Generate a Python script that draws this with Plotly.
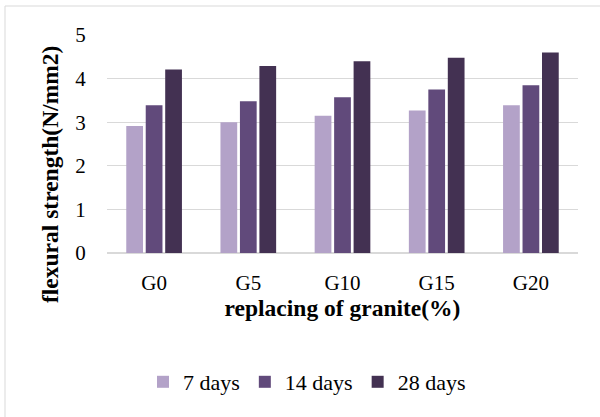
import plotly.graph_objects as go

categories = ["G0", "G5", "G10", "G15", "G20"]
days7 = [2.91, 3.00, 3.15, 3.27, 3.39]
days14 = [3.39, 3.48, 3.57, 3.75, 3.85]
days28 = [4.21, 4.29, 4.40, 4.48, 4.60]
series_names = ["7 days", "14 days", "28 days"]
colors = ["#b3a2c8", "#614a7b", "#433152"]

fig = go.Figure()
for name, vals, col in zip(series_names, [days7, days14, days28], colors):
    fig.add_trace(go.Bar(x=categories, y=vals, name=name, marker_color=col,
                         marker_line_width=0))

font_family = "Liberation Serif, Times New Roman, serif"
L, R, T, B = 107, 22, 35, 164
W, H = 600, 417
pw, ph = W - L - R, H - T - B

fig.update_layout(
    width=W, height=H,
    margin=dict(l=L, r=R, t=T, b=B, autoexpand=False),
    paper_bgcolor="white", plot_bgcolor="white",
    barmode="group", bargap=0.38, bargroupgap=0.14,
    font=dict(family=font_family, size=21, color="#000000"),
    xaxis=dict(
        automargin=False,
        title=dict(text="<b>replacing of granite(%)</b>", font=dict(size=23.5), standoff=4),
        showline=True, linecolor="#d9d9d9", linewidth=1,
        ticks="outside", ticklen=11, tickcolor="rgba(0,0,0,0)",
        tickfont=dict(size=21),
    ),
    yaxis=dict(
        automargin=False,
        range=[0, 5], dtick=1,
        showgrid=True, gridcolor="#d9d9d9", gridwidth=1,
        zeroline=True, zerolinecolor="#d9d9d9",
        ticks="outside", ticklen=16, tickcolor="rgba(0,0,0,0)",
        tickfont=dict(size=21),
    ),
    annotations=[dict(
        text="<b>flexural strength(N/mm2)</b>", textangle=-90,
        xref="paper", yref="paper",
        x=(50 - L) / pw, y=(T + ph - 175) / ph,
        xanchor="center", yanchor="middle", showarrow=False,
        font=dict(size=23.5),
    )],
    legend=dict(
        orientation="h", x=(307 - L) / pw, xanchor="center",
        y=-(382 - (T + ph)) / ph, yanchor="middle",
        font=dict(size=22), itemwidth=30, traceorder="normal",
    ),
    shapes=[dict(
        type="rect", xref="paper", yref="paper",
        x0=(5 - L) / pw, x1=(W + 5 - L) / pw,
        y0=-(H + 5 - T - ph) / ph, y1=1 + (T - 6) / ph,
        line=dict(color="#d9d9d9", width=1), fillcolor="rgba(0,0,0,0)",
        layer="below",
    )],
)

fig.write_html("out.html", config={"displayModeBar": False},
               post_script="document.body.style.margin='0';")
